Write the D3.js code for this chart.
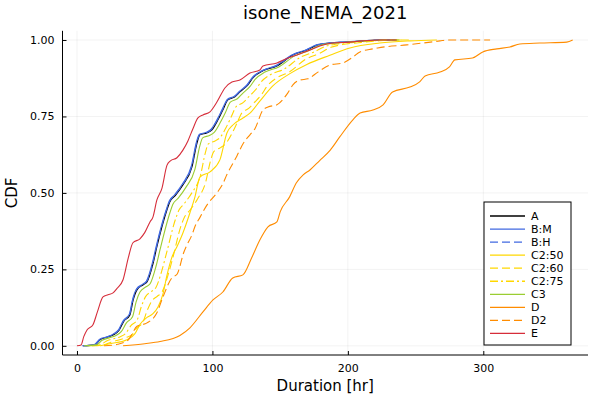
<!DOCTYPE html>
<html>
<head>
<meta charset="utf-8">
<script src="https://cdn.jsdelivr.net/npm/d3@7"></script>
<style>
  body { margin: 0; background: #fff; }
  text { font-family: "DejaVu Sans", sans-serif; }
</style>
</head>
<body>
<div id="container"></div>
<script>
// series data: [duration hr, cdf]
const dataA = [[4.4,0],[13.3,0.003],[17,0.02],[22.9,0.029],[27,0.036],[31,0.05],[34.5,0.08],[39,0.1],[41.5,0.15],[44.3,0.183],[48.7,0.199],[51.7,0.209],[56.1,0.268],[59,0.324],[66.4,0.444],[68.6,0.471],[72.3,0.49],[78.2,0.526],[84.9,0.585],[88.6,0.663],[90.8,0.69],[95.9,0.696],[99.6,0.706],[104.1,0.739],[107.7,0.771],[111.4,0.804],[116.6,0.814],[120.3,0.83],[126.2,0.853],[129.9,0.876],[137.3,0.899],[147.6,0.915],[159.4,0.951],[169.7,0.967],[177.9,0.984],[186.7,0.99],[199.3,0.993],[211.1,0.997],[223.6,1],[236.2,1]]
const dataBM = [[4,0],[12.8,0.004],[16.5,0.021],[22.5,0.03],[26.6,0.038],[30.6,0.052],[34.2,0.083],[38.6,0.103],[41.1,0.153],[43.9,0.186],[48.3,0.201],[51.3,0.212],[55.7,0.272],[58.6,0.328],[66,0.447],[68.2,0.474],[71.9,0.493],[77.8,0.529],[84.5,0.589],[88.2,0.667],[90.4,0.692],[95.5,0.698],[99.2,0.709],[103.7,0.742],[107.3,0.774],[111,0.806],[116.2,0.816],[119.9,0.832],[125.8,0.855],[129.5,0.878],[136.9,0.9],[147.2,0.917],[159,0.952],[169.3,0.968],[177.5,0.985],[186.3,0.99],[198.9,0.994],[210.7,0.997],[223.2,1],[235.8,1]]
const dataBH = [[4.2,0],[13,0.003],[16.8,0.02],[22.7,0.03],[26.8,0.037],[30.8,0.051],[34.4,0.081],[38.8,0.102],[41.3,0.152],[44.1,0.185],[48.5,0.2],[51.5,0.211],[55.9,0.27],[58.8,0.326],[66.2,0.446],[68.4,0.473],[72.1,0.492],[78,0.528],[84.7,0.587],[88.4,0.665],[90.6,0.691],[95.7,0.697],[99.4,0.708],[103.9,0.741],[107.5,0.773],[111.2,0.805],[116.4,0.815],[120.1,0.831],[126,0.854],[129.7,0.877],[137.1,0.9],[147.4,0.916],[159.2,0.951],[169.5,0.968],[177.7,0.984],[186.5,0.99],[199.1,0.993],[210.9,0.997],[223.4,1],[236,1]]
const dataC250 = [[17,0],[24.4,0.007],[36.9,0.02],[42.8,0.04],[46.5,0.07],[51.7,0.093],[56.1,0.105],[59.8,0.127],[63.5,0.17],[66.4,0.23],[70.1,0.29],[73.8,0.324],[78.2,0.369],[83.4,0.435],[87.1,0.487],[90.8,0.552],[98.2,0.569],[105.5,0.608],[110.7,0.696],[115.1,0.722],[122.5,0.745],[127.7,0.761],[135,0.8],[144.6,0.85],[157.2,0.89],[169.7,0.92],[186.7,0.95],[201.5,0.974],[223.6,0.99],[245.8,0.997],[265.7,1]]
const dataC260 = [[11,0],[20,0.003],[25,0.012],[31.5,0.02],[36,0.027],[40.5,0.036],[44,0.058],[48.5,0.076],[51.8,0.115],[55,0.145],[59.5,0.163],[62.8,0.176],[67,0.228],[70.3,0.28],[77,0.395],[79.5,0.422],[83.5,0.444],[89,0.48],[95,0.535],[98.6,0.605],[101,0.635],[106,0.648],[110,0.662],[114.5,0.695],[118,0.727],[121.8,0.762],[127,0.777],[130.8,0.795],[136.5,0.823],[140.2,0.848],[147.5,0.876],[157,0.896],[168.8,0.937],[179,0.956],[187.5,0.976],[196,0.985],[208,0.991],[220,0.996],[233,1],[245,1]]
const dataC275 = [[8,0],[17,0.003],[21.5,0.015],[27.5,0.024],[32,0.03],[36,0.041],[39.8,0.066],[44.5,0.085],[47.5,0.128],[50.5,0.16],[55,0.178],[58.2,0.19],[62.6,0.245],[65.8,0.298],[72.8,0.415],[75.2,0.443],[79,0.464],[84.8,0.5],[91.2,0.558],[94.8,0.632],[97,0.66],[102,0.67],[105.8,0.682],[110.2,0.715],[113.8,0.748],[117.5,0.782],[122.6,0.795],[126.3,0.812],[132,0.838],[135.8,0.862],[143,0.887],[153,0.905],[164.8,0.943],[175,0.961],[183.5,0.979],[192,0.987],[204.5,0.992],[216,0.996],[229,1],[240,1]]
const dataC3 = [[5,0],[14.5,0.003],[18.5,0.018],[24.5,0.027],[28.8,0.034],[32.8,0.047],[36.5,0.075],[41,0.095],[43.6,0.143],[46.5,0.176],[51,0.193],[54,0.203],[58.4,0.261],[61.4,0.316],[68.6,0.435],[70.8,0.463],[74.6,0.482],[80.4,0.518],[87,0.576],[90.6,0.652],[92.8,0.68],[97.8,0.688],[101.5,0.699],[105.9,0.731],[109.6,0.763],[113.2,0.797],[118.4,0.808],[122,0.824],[127.8,0.848],[131.5,0.871],[138.8,0.895],[149,0.912],[160.8,0.948],[171,0.965],[179.2,0.982],[188,0.989],[200.5,0.993],[212.3,0.997],[225,1],[238,1]]
const dataD = [[34,0],[50,0.007],[61.3,0.014],[76,0.034],[83.4,0.059],[93,0.111],[100.4,0.15],[107.7,0.176],[115,0.222],[122.5,0.232],[129,0.288],[135,0.346],[141,0.389],[147.6,0.405],[150,0.438],[157,0.487],[162,0.533],[167,0.559],[172,0.575],[179,0.605],[187,0.64],[194,0.683],[203.7,0.739],[209,0.761],[218.5,0.771],[226,0.788],[233,0.83],[245.8,0.846],[253,0.863],[257,0.882],[268,0.895],[275,0.912],[279,0.935],[292,0.941],[299.6,0.961],[310,0.971],[319.6,0.977],[327,0.987],[341.7,0.99],[361.6,0.993],[366,1]]
const dataD2 = [[20,0],[30,0.005],[38,0.02],[44.3,0.064],[51.7,0.075],[59,0.108],[63.5,0.16],[70,0.222],[74,0.235],[76,0.26],[78.2,0.297],[81.2,0.33],[84.9,0.363],[87.1,0.39],[90.8,0.42],[95.9,0.46],[103.3,0.5],[107.7,0.53],[110.7,0.56],[118,0.62],[122.5,0.66],[127.7,0.69],[131.4,0.71],[137.3,0.771],[141,0.781],[147.6,0.788],[155.7,0.827],[159.4,0.853],[164.6,0.869],[170.5,0.873],[177.9,0.895],[186.7,0.918],[196.3,0.925],[203.7,0.944],[208.9,0.961],[218.5,0.971],[222,0.974],[243.5,0.984],[268,0.997],[273,1],[305,1]]
const dataE = [[0,0],[3,0.003],[5,0.03],[7.4,0.052],[11.8,0.069],[15,0.11],[19.2,0.16],[22.9,0.167],[26.6,0.173],[30,0.19],[34,0.216],[38,0.29],[41.3,0.337],[46.5,0.35],[50,0.37],[53.9,0.405],[56,0.42],[59,0.477],[62.7,0.515],[66.4,0.59],[69,0.605],[73.8,0.615],[78.2,0.64],[81.9,0.67],[85.6,0.71],[89.3,0.745],[93,0.755],[98.2,0.765],[103.3,0.797],[109.2,0.843],[114.4,0.863],[120.3,0.869],[127.7,0.892],[135,0.902],[137.3,0.915],[147.6,0.925],[155.7,0.941],[162.4,0.951],[172,0.967],[179.3,0.98],[189,0.99],[201.5,0.993],[211,0.997],[223.6,1],[236,1]]

const seriesNames = ['A', 'B:M', 'B:H', 'C2:50', 'C2:60', 'C2:75', 'C3', 'D', 'D2', 'E']
const seriesData = [dataA, dataBM, dataBH, dataC250, dataC260, dataC275, dataC3, dataD, dataD2, dataE]
const xTicks = [0, 100, 200, 300]
const yTicks = [0, 0.25, 0.5, 0.75, 1]

// styles per series
const colors = ['#000000', '#4169e1', '#4169e1', '#ffd700', '#ffd700', '#ffd700', '#9acd32', '#ff8c00', '#ff8c00', '#d62d3a']
const dashes = [null, null, '8,4', null, '8,4', '8,3,2,3', null, null, '8,4', null]

const w = 600
const h = 400
const margin = {left: 62.5, right: 12, top: 30.8, bottom: 45}

const x = d3.scaleLinear().domain([-10.7, 377.3]).range([margin.left, w - margin.right])
const y = d3.scaleLinear().domain([-0.03, 1.03]).range([h - margin.bottom, margin.top])

const svg = d3.select('#container')
    .append('svg')
    .attr('width', w)
    .attr('height', h)

// grid
svg.append('g')
    .selectAll('line')
    .data(xTicks)
    .enter()
    .append('line')
    .attr('x1', d => x(d)).attr('x2', d => x(d))
    .attr('y1', margin.top).attr('y2', h - margin.bottom)
    .attr('stroke', '#000').attr('stroke-opacity', 0.1).attr('stroke-width', 0.5)

svg.append('g')
    .selectAll('line')
    .data(yTicks)
    .enter()
    .append('line')
    .attr('y1', d => y(d)).attr('y2', d => y(d))
    .attr('x1', margin.left).attr('x2', w - margin.right)
    .attr('stroke', '#000').attr('stroke-opacity', 0.1).attr('stroke-width', 0.5)

// lines
const line = d3.line()
    .x(d => x(d[0]))
    .y(d => y(d[1]))
    .curve(d3.curveMonotoneX)

svg.append('g')
    .selectAll('path')
    .data(seriesData)
    .enter()
    .append('path')
    .attr('d', line)
    .attr('fill', 'none')
    .attr('stroke', (d, i) => colors[i])
    .attr('stroke-width', 1.1)
    .attr('stroke-dasharray', (d, i) => dashes[i])

// axes
const xAxis = d3.axisBottom(x).tickValues(xTicks).tickSizeInner(-4).tickSizeOuter(0).tickPadding(9)
const yAxis = d3.axisLeft(y).tickValues(yTicks).tickSizeInner(-4).tickSizeOuter(0).tickPadding(8).tickFormat(d3.format('.2f'))

const gx = svg.append('g')
    .attr('transform', 'translate(0,' + (h - margin.bottom) + ')')
    .call(xAxis)
gx.select('.domain').attr('d', 'M' + margin.left + ',0H' + (w - margin.right))

const gy = svg.append('g')
    .attr('transform', 'translate(' + margin.left + ',0)')
    .call(yAxis)
gy.select('.domain').attr('d', 'M0,' + margin.top + 'V' + (h - margin.bottom))

svg.selectAll('.tick text')
    .attr('font-family', '"DejaVu Sans", sans-serif')
    .attr('font-size', 11)
    .attr('fill', '#000')

// title and labels
svg.append('text')
    .attr('x', (margin.left + w - margin.right) / 2)
    .attr('y', 19)
    .attr('text-anchor', 'middle')
    .attr('font-size', 18)
    .text('isone_NEMA_2021')

svg.append('text')
    .attr('x', (margin.left + w - margin.right) / 2)
    .attr('y', 391)
    .attr('text-anchor', 'middle')
    .attr('font-size', 15)
    .text('Duration [hr]')

svg.append('text')
    .attr('transform', 'translate(17,' + ((margin.top + h - margin.bottom) / 2) + ') rotate(-90)')
    .attr('text-anchor', 'middle')
    .attr('font-size', 15)
    .text('CDF')

// legend
const legend = svg.append('g').attr('transform', 'translate(484,202)')
legend.append('rect')
    .attr('width', 87).attr('height', 143)
    .attr('fill', '#fff').attr('stroke', '#000').attr('stroke-width', 1)

const items = legend.selectAll('g.item')
    .data(seriesNames)
    .enter()
    .append('g')
    .attr('class', 'item')
    .attr('transform', (d, i) => 'translate(0,' + (14 + i * 13.05) + ')')

items.append('line')
    .attr('x1', 6).attr('x2', 41)
    .attr('stroke', d => colors[seriesNames.indexOf(d)])
    .attr('stroke-width', 1.3)
    .attr('stroke-dasharray', d => dashes[seriesNames.indexOf(d)])

items.append('text')
    .attr('x', 47)
    .attr('dy', '0.36em')
    .attr('font-size', 11)
    .text(d => d)
</script>
</body>
</html>
